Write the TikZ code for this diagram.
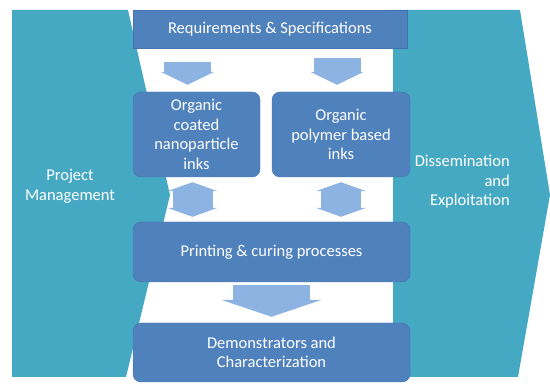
\documentclass[tikz,border=0pt]{standalone}
\usepackage{fontspec}
\setmainfont{Carlito}
\usepackage{tikz}
\usetikzlibrary{arrows.meta, positioning, calc}
\definecolor{teal}{HTML}{46A9C4}
\definecolor{boxblue}{HTML}{4F81BD}
\definecolor{boxline}{HTML}{4472AE}
\definecolor{arrowblue}{HTML}{8DB3E2}

\begin{document}
\begin{tikzpicture}[x=1pt,y=-1pt]
    \tikzstyle{box}=[shape=rectangle,fill=boxblue,draw=boxline,thin,inner sep=0pt,text=white,align=center,font=\fontsize{16.5}{19.5}\selectfont]
    \tikzstyle{rbox}=[box,rounded corners=8pt]
    \tikzstyle{label}=[text=white,inner sep=0pt,font=\fontsize{16.5}{19.5}\selectfont]
    \tikzstyle{downarrow}=[arrowblue,line width=47pt,-{Triangle[length=13pt,width=53pt]}]
    \tikzstyle{bothways}=[arrowblue,line width=40pt,{Triangle[length=9pt,width=50pt]}-{Triangle[length=9pt,width=50pt]},shorten <=5pt,shorten >=5pt]

    \useasboundingbox (0,0) rectangle (550,385);

    % side chevrons
    \fill[teal] (12,10) -- (128,10) -- (170,195) -- (126,377) -- (12,377) -- cycle;
    \fill[teal] (393,10) -- (520,10) -- (550,195) -- (518,377) -- (393,377) -- cycle;

    \node[label,align=center] (PM) at (70,186) {Project\\Management};
    \node[label,align=right,anchor=east] (DE) at (510,182) {Dissemination\\and\\Exploitation};

    \node[box,minimum width=274pt,minimum height=38pt] (Req) at (270,29) {Requirements \& Specifications};
    \node[rbox,minimum width=127pt,minimum height=85pt] (InkA) at (196.5,134.5) {Organic\\coated\\nanoparticle\\inks};
    \node[rbox,minimum width=138pt,minimum height=85pt] (InkB) at (341,134.5) {Organic\\polymer based\\inks};
    \node[rbox,minimum width=277pt,minimum height=60pt] (Print) at (271.5,252) {Printing \& curing processes};
    \node[rbox,minimum width=277pt,minimum height=59pt] (Demo) at (271.5,352.5) {Demonstrators and\\Characterization};

    \coordinate (A1) at ($(InkA.north)+(-9,0)$);
    \coordinate (B1) at ($(InkB.north)+(-4,0)$);
    \coordinate (A2) at ($(InkA.south)+(-4,0)$);

    \draw[downarrow,shorten <=14pt,shorten >=7pt] (Req.south -| A1) -- (A1);
    \draw[downarrow,shorten <=10pt,shorten >=7pt] (Req.south -| B1) -- (B1);
    \draw[bothways] (A2) -- (Print.north -| A2);
    \draw[bothways] (InkB.south) -- (Print.north -| InkB.south);
    \draw[arrowblue,line width=77pt,-{Triangle[length=17pt,width=100pt]},shorten <=3pt,shorten >=6pt] (Print.south) -- (Demo.north);

  \end{tikzpicture}
\end{document}
